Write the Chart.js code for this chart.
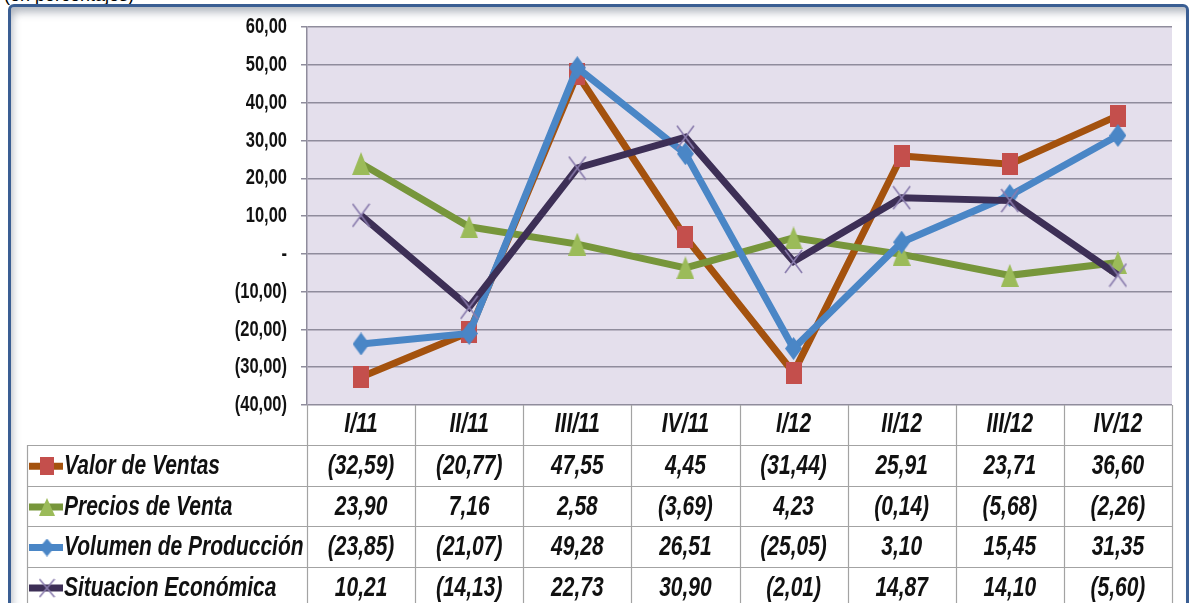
<!DOCTYPE html>
<html><head><meta charset="utf-8">
<script src="https://cdn.jsdelivr.net/npm/chart.js@4.4.1/dist/chart.umd.min.js"></script>
<style>
html,body{margin:0;padding:0;background:#fff;overflow:hidden;}
#wrap{position:relative;width:1189px;height:603px;overflow:hidden;}
#frame{position:absolute;left:8px;top:4px;width:1175px;height:640px;border:3px solid #3a5e93;border-radius:6px;box-shadow: inset 4px 8px 8px -3px rgba(80,90,110,0.45);}
#sub{position:absolute;left:4px;top:-15px;font:18px 'Liberation Sans',Arial,sans-serif;color:#000;white-space:nowrap}
canvas{position:absolute;left:0;top:0}
</style></head>
<body><div id="wrap"><div id="sub">(en porcentajes)</div><div id="frame"></div><canvas id="c" width="1189" height="603"></canvas></div>
<script>
// ---- data ----
const categories = ['I/11','II/11','III/11','IV/11','I/12','II/12','III/12','IV/12'];
const valorVentas = [-32.59,-20.77,47.55,4.45,-31.44,25.91,23.71,36.60];
const preciosVenta = [23.90,7.16,2.58,-3.69,4.23,-0.14,-5.68,-2.26];
const volumenProduccion = [-23.85,-21.07,49.28,26.51,-25.05,3.10,15.45,31.35];
const situacionEconomica = [10.21,-14.13,22.73,30.90,-2.01,14.87,14.10,-5.60];
const seriesNames = ['Valor de Ventas','Precios de Venta','Volumen de Producción','Situacion Económica'];
const yMin = -40, yMax = 60, yStep = 10;

const FONT = "'Liberation Sans','Arial',sans-serif";
const CONDENSE = 0.75; // emulate a narrow (Arial Narrow-like) face

function fmt(v){
  if (v === 0) return '-';
  const s = Math.abs(v).toFixed(2).replace('.', ',');
  return v < 0 ? '(' + s + ')' : s;
}

// horizontal condensing of all canvas text, anchored at the text's own x
const canvasEl = document.getElementById('c');
const ctx0 = canvasEl.getContext('2d');
const origFillText = ctx0.fillText;
ctx0.fillText = function(text, x, y, maxW){
  this.save();
  this.translate(x, y);
  this.scale(CONDENSE, 1);
  if (maxW !== undefined) origFillText.call(this, text, 0, 0, maxW / CONDENSE);
  else origFillText.call(this, text, 0, 0);
  this.restore();
};

function makeMarker(type, w, h, fill){
  const c = document.createElement('canvas');
  c.width = w; c.height = h;
  const g = c.getContext('2d');
  g.fillStyle = fill; g.strokeStyle = fill;
  if (type === 'square'){ g.fillRect(0,0,w,h); }
  else if (type === 'triangle'){ g.beginPath(); g.moveTo(w/2,0); g.lineTo(w,h); g.lineTo(0,h); g.closePath(); g.fill(); }
  else if (type === 'diamond'){ g.beginPath(); g.moveTo(w/2,0); g.lineTo(w,h/2); g.lineTo(w/2,h); g.lineTo(0,h/2); g.closePath(); g.fill(); }
  else if (type === 'x'){ g.lineWidth = 1.6; g.beginPath(); g.moveTo(1,1); g.lineTo(w-1,h-1); g.moveTo(w-1,1); g.lineTo(1,h-1); g.stroke(); }
  return c;
}

const styles = [
  {line:'#a4520e', type:'square', fill:'#c44f4c', w:16, h:22},
  {line:'#77963b', type:'triangle', fill:'#9bbb59', w:18, h:23},
  {line:'#4a86c6', type:'diamond', fill:'#4a86c6', w:17, h:23},
  {line:'#3d2f56', type:'x', fill:'#8a7cad', w:19, h:25}
];
const seriesData = [valorVentas, preciosVenta, volumenProduccion, situacionEconomica];
const markers = styles.map(s => makeMarker(s.type, s.w, s.h, s.fill));
const legendMarkers = styles.map(s => makeMarker(s.type, Math.round(s.w*0.9), Math.round(s.h*0.8), s.fill));

const tablePlugin = {
  id: 'tablePlugin',
  beforeDraw(chart){
    const {ctx, chartArea:a} = chart;
    ctx.save();
    ctx.fillStyle = '#e4dfec';
    ctx.fillRect(a.left, a.top, a.right - a.left, a.bottom - a.top);
    ctx.restore();
  },
  afterDraw(chart){
    const {ctx, chartArea:a, scales:{x}} = chart;
    const n = categories.length;
    const colW = (a.right - a.left) / n;
    const headerBottom = a.bottom + 40;
    const rowH = 40.6;
    const tableLeft = 27;
    const H = chart.height + 10;
    ctx.save();
    ctx.strokeStyle = '#a3a3a3';
    ctx.lineWidth = 1.2;
    ctx.beginPath();
    for (let k = 0; k <= n; k++){
      const xx = Math.round(a.left + k*colW) + 0.5;
      ctx.moveTo(xx, a.bottom); ctx.lineTo(xx, H);
    }
    ctx.moveTo(tableLeft + 0.5, headerBottom); ctx.lineTo(tableLeft + 0.5, H);
    for (let i = 0; i < seriesNames.length; i++){
      const yy = Math.round(headerBottom + i*rowH) + 0.5;
      ctx.moveTo(tableLeft, yy); ctx.lineTo(a.right, yy);
    }
    ctx.stroke();

    ctx.font = 'italic bold 28px ' + FONT;
    ctx.fillStyle = '#111';
    ctx.textBaseline = 'middle';
    for (let i = 0; i < seriesNames.length; i++){
      const cy = headerBottom + i*rowH + rowH/2 + 1;
      ctx.textAlign = 'center';
      seriesData[i].forEach((v, j) => {
        ctx.fillText(fmt(v), x.getPixelForValue(j), cy);
      });
      ctx.strokeStyle = styles[i].line;
      ctx.lineWidth = 7;
      ctx.beginPath(); ctx.moveTo(29, cy); ctx.lineTo(63, cy); ctx.stroke();
      const m = legendMarkers[i];
      ctx.drawImage(m, 47 - m.width/2, cy - m.height/2);
      ctx.textAlign = 'left';
      ctx.fillText(seriesNames[i], 64, cy);
    }
    ctx.restore();
  }
};

const datasets = seriesNames.map((name, i) => ({
  label: name,
  data: seriesData[i],
  borderColor: styles[i].line,
  backgroundColor: styles[i].fill,
  borderWidth: 7,
  pointStyle: markers[i],
  pointRadius: 10,
  pointHoverRadius: 10,
  tension: 0,
  fill: false,
  order: seriesNames.length - i
}));

new Chart(canvasEl, {
  type: 'line',
  data: { labels: categories, datasets },
  plugins: [tablePlugin],
  options: {
    responsive: false,
    animation: false,
    layout: { padding: { left: 0, top: 18, right: 5, bottom: 0 } },
    plugins: { legend: { display: false }, tooltip: { enabled: false } },
    scales: {
      x: {
        type: 'category',
        offset: true,
        grid: { display: false },
        border: { display: false },
        ticks: { autoSkip: false, maxRotation: 0, padding: -6, color: '#111',
                 font: { family: FONT, size: 28, weight: 'bold', style: 'italic', lineHeight: 1.2 } },
        afterFit(scale){ scale.height = 198; }
      },
      y: {
        min: yMin, max: yMax,
        grid: { color: '#8f8c9c', lineWidth: 1.5, tickLength: 6 },
        border: { display: true, color: '#8f8c9c', width: 1.5 },
        ticks: { stepSize: yStep, padding: 14, color: '#111',
                 font: { family: FONT, size: 22, weight: 'bold' },
                 callback: v => fmt(v) },
        afterFit(scale){ scale.width = 307; }
      }
    }
  }
});
</script>
</body></html>
